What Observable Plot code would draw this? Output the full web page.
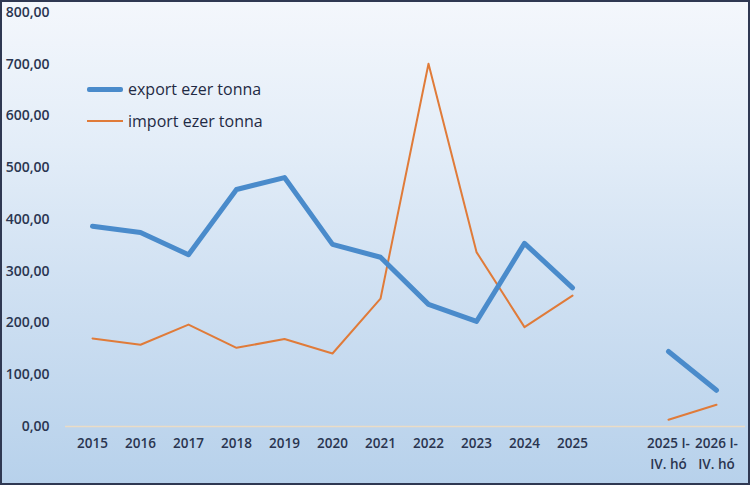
<!DOCTYPE html>
<html>
<head>
<meta charset="utf-8">
<script src="https://cdn.jsdelivr.net/npm/d3@7"></script>
<script src="https://cdn.jsdelivr.net/npm/@observablehq/plot@0.6"></script>
<style>
  html, body { margin: 0; padding: 0; }
  #wrap {
    position: relative; width: 750px; height: 485px; overflow: hidden;
    background: linear-gradient(to bottom, #f4f7fc 0%, #e3edf8 30%, #cfe0f2 60%, #b7d1eb 100%);
    font-family: "Open Sans", sans-serif;
  }
  #frame {
    position: absolute; left: 0; top: 0; width: 750px; height: 485px;
    box-sizing: border-box; border: 2px solid #2f3852; pointer-events: none;
  }
  #chart { position: absolute; left: 0; top: 0; }
  .legend { position: absolute; left: 87px; font-size: 16px; color: #1f2a44; }
  .legend div { display: flex; align-items: center; height: 32px; }
  .legend span.sw { display: inline-block; width: 36px; margin-right: 5px; }
</style>
</head>
<body>
<div id="wrap">
  <div id="chart"></div>
  <div class="legend" style="top:73px">
    <div><span class="sw" style="height:5px;background:#4a8bcb;border-radius:2px"></span>export ezer tonna</div>
    <div><span class="sw" style="height:2px;background:#e07b39"></span>import ezer tonna</div>
  </div>
  <div id="frame"></div>
</div>
<script>
const categories = ["2015","2016","2017","2018","2019","2020","2021","2022","2023","2024","2025","","2025 I-\nIV. hó","2026 I-\nIV. hó"];
const exportValues = [387, 375, 332, 458, 481, 352, 327, 236, 203, 354, 268, null, 145, 70];
const importValues = [170, 158, 197, 152, 169, 141, 247, 701, 337, 192, 253, null, 13, 42];
const yTicks = [0, 100, 200, 300, 400, 500, 600, 700, 800];

const rows = (vals) => categories.map((c, i) => ({cat: c, v: vals[i]}));
const exp = rows(exportValues);
const imp = rows(importValues);

const chart = Plot.plot({
  width: 750,
  height: 485,
  marginLeft: 88,
  marginRight: 31,
  marginTop: 12,
  marginBottom: 59,
  style: { background: "transparent", fontFamily: "Open Sans, sans-serif", overflow: "visible" },
  x: { type: "point", domain: categories, padding: 0, label: null },
  y: { domain: [0, 800], label: null },
  marks: [
    Plot.ruleY([0], { stroke: "#eadcc6", strokeWidth: 1.5, insetLeft: -23, insetRight: -26 }),
    Plot.axisY({
      ticks: yTicks, tickSize: 0, tickPadding: 39, label: null,
      tickFormat: d => d3.format(".2f")(d).replace(".", ","),
      fontSize: 14, fontWeight: 600, fill: "#2a3550"
    }),
    Plot.axisX({
      tickSize: 0, tickPadding: 6, label: null,
      fontSize: 13.5, fontWeight: 600, fill: "#2a3550", lineHeight: 1.6
    }),
    Plot.line(imp, { x: "cat", y: "v", stroke: "#e07b39", strokeWidth: 2, defined: d => d.v != null }),
    Plot.line(exp, { x: "cat", y: "v", stroke: "#4a8bcb", strokeWidth: 5, defined: d => d.v != null })
  ]
});
document.getElementById("chart").appendChild(chart);
</script>
</body>
</html>
